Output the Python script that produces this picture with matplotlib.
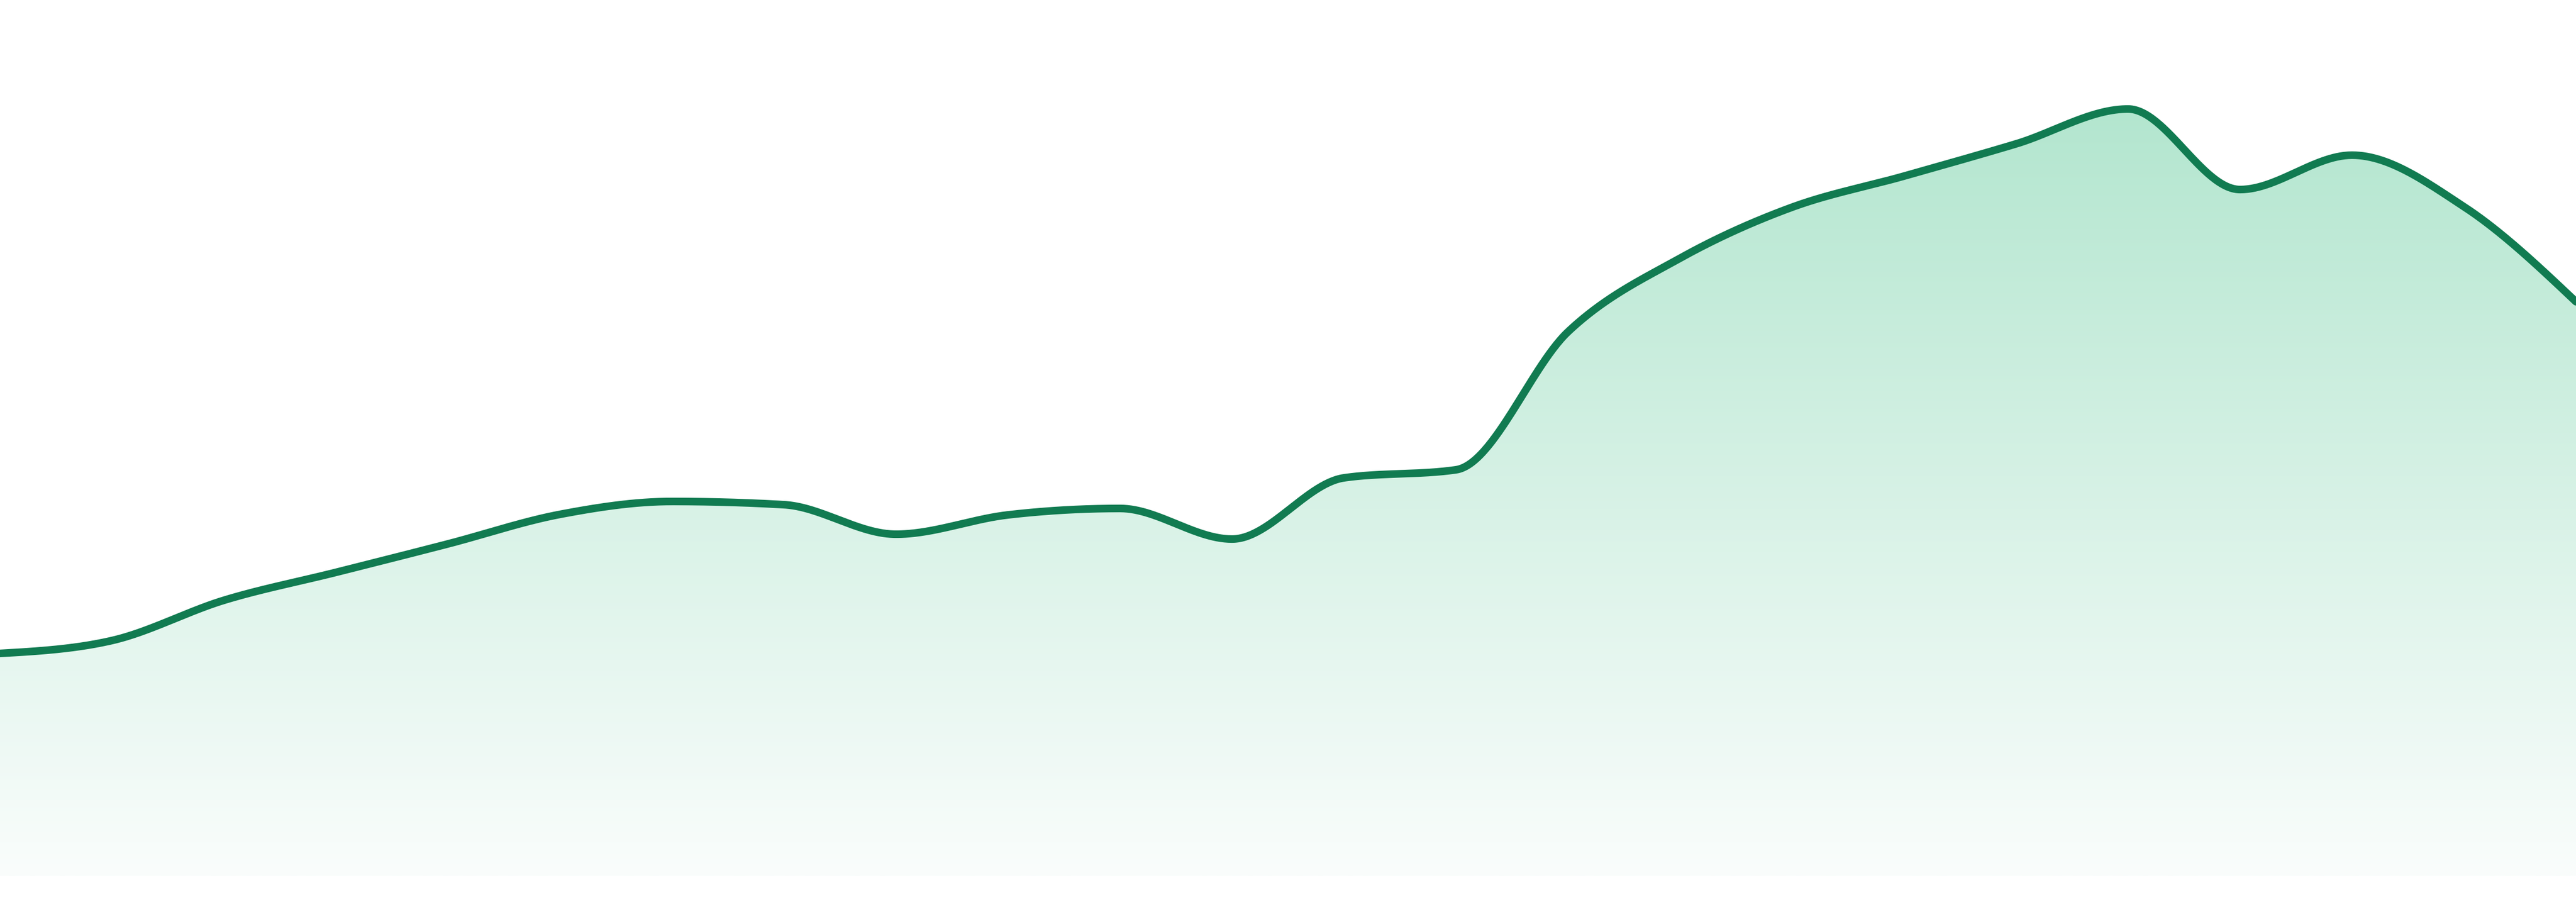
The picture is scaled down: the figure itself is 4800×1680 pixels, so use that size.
import numpy as np
import matplotlib
matplotlib.use("Agg")
import matplotlib.pyplot as plt
from matplotlib.patches import PathPatch
from matplotlib.path import Path

# Data (one value per period)
periods = list(range(24))
values = [41.5, 43.9, 51.4, 56.6, 61.9, 67.4, 69.8, 69.2, 63.7, 67.3, 68.5, 62.8,
          74.2, 75.7, 101.4, 115.1, 124.6, 130.4, 136.4, 142.9, 127.9, 134.3, 124.7, 107.0]

line_color = "#117b51"
grad_top = (179, 230, 207)
grad_bottom = (250, 253, 252)


def monotone_tangents(x, y):
    x = np.asarray(x, float)
    y = np.asarray(y, float)
    n = len(x)
    t = np.zeros(n)
    for i in range(1, n - 1):
        h0 = x[i] - x[i - 1]
        h1 = x[i + 1] - x[i]
        s0 = (y[i] - y[i - 1]) / h0
        s1 = (y[i + 1] - y[i]) / h1
        p = (s0 * h1 + s1 * h0) / (h0 + h1)
        t[i] = (np.sign(s0) + np.sign(s1)) * min(abs(s0), abs(s1), 0.5 * abs(p))
    h = x[1] - x[0]
    t[0] = (3 * (y[1] - y[0]) / h - t[1]) / 2
    h = x[-1] - x[-2]
    t[-1] = (3 * (y[-1] - y[-2]) / h - t[-2]) / 2
    return t


def monotone_curve(x, y, per=60):
    x = np.asarray(x, float)
    y = np.asarray(y, float)
    t = monotone_tangents(x, y)
    xs, ys = [], []
    for i in range(len(x) - 1):
        dx = (x[i + 1] - x[i]) / 3
        p0 = np.array([x[i], y[i]])
        p1 = np.array([x[i] + dx, y[i] + dx * t[i]])
        p2 = np.array([x[i + 1] - dx, y[i + 1] - dx * t[i + 1]])
        p3 = np.array([x[i + 1], y[i + 1]])
        u = np.linspace(0, 1, per, endpoint=(i == len(x) - 2))[:, None]
        pts = ((1 - u) ** 3) * p0 + 3 * ((1 - u) ** 2) * u * p1 + 3 * (1 - u) * u ** 2 * p2 + u ** 3 * p3
        xs.append(pts[:, 0])
        ys.append(pts[:, 1])
    return np.concatenate(xs), np.concatenate(ys)


fig = plt.figure(figsize=(16, 5.6), dpi=300)
ax = fig.add_axes([0, 0, 1, 1])
ax.set_xlim(0, 23)
ax.set_ylim(-4.8, 163.2)
ax.axis("off")

cx, cy = monotone_curve(periods, values)

# gradient fill under the curve
ymax = max(values)
ny = 400
ycoords = np.linspace(ymax, 0, ny)
frac = (ymax - ycoords) / ymax
top = np.array(grad_top) / 255.0
bot = np.array(grad_bottom) / 255.0
grad = top[None, :] * (1 - frac[:, None]) + bot[None, :] * frac[:, None]
img = np.repeat(grad[:, None, :], 2, axis=1)
im = ax.imshow(img, extent=[0, 23, 0, ymax], origin="upper", aspect="auto",
               interpolation="bilinear", zorder=1)
verts = np.vstack([np.column_stack([cx, cy]),
                   [[cx[-1], 0], [cx[0], 0], [cx[0], cy[0]]]])
codes = [Path.MOVETO] + [Path.LINETO] * (len(verts) - 2) + [Path.CLOSEPOLY]
clip = PathPatch(Path(verts, codes), facecolor="none", edgecolor="none",
                 transform=ax.transData)
ax.add_patch(clip)
im.set_clip_path(clip)

ax.plot(cx, cy, color=line_color, lw=3.4, solid_capstyle="round", zorder=3)

fig.savefig("out.png", dpi=300, facecolor="white")
